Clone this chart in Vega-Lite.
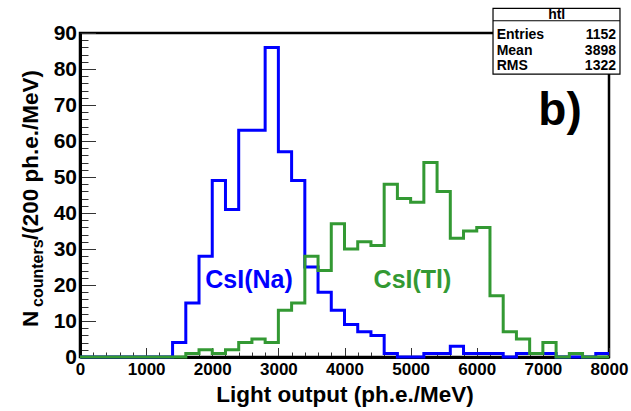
{
  "$schema": "https://vega.github.io/schema/vega-lite/v6.json",
  "width": 529,
  "height": 324,
  "autosize": {"type": "none"},
  "padding": {"left": 80, "top": 33, "right": 22, "bottom": 54},
  "background": "white",
  "config": {
    "font": "Liberation Sans",
    "view": {"stroke": "black", "strokeWidth": 2.5},
    "text": {"font": "Liberation Sans", "fontWeight": "bold"},
    "axis": {"labelOverlap": false, "labelFlush": false, "grid": false}
  },
  "datasets": {
    "hist": [
      {"sample": "CsI(Na)", "x": 0, "n": 0}, {"sample": "CsI(Na)", "x": 200, "n": 0}, {"sample": "CsI(Na)", "x": 400, "n": 0}, {"sample": "CsI(Na)", "x": 600, "n": 0},
      {"sample": "CsI(Na)", "x": 800, "n": 0}, {"sample": "CsI(Na)", "x": 1000, "n": 0}, {"sample": "CsI(Na)", "x": 1200, "n": 0}, {"sample": "CsI(Na)", "x": 1400, "n": 4},
      {"sample": "CsI(Na)", "x": 1600, "n": 15}, {"sample": "CsI(Na)", "x": 1800, "n": 28}, {"sample": "CsI(Na)", "x": 2000, "n": 49}, {"sample": "CsI(Na)", "x": 2200, "n": 41},
      {"sample": "CsI(Na)", "x": 2400, "n": 63}, {"sample": "CsI(Na)", "x": 2600, "n": 63}, {"sample": "CsI(Na)", "x": 2800, "n": 86}, {"sample": "CsI(Na)", "x": 3000, "n": 57},
      {"sample": "CsI(Na)", "x": 3200, "n": 49}, {"sample": "CsI(Na)", "x": 3400, "n": 25}, {"sample": "CsI(Na)", "x": 3600, "n": 18}, {"sample": "CsI(Na)", "x": 3800, "n": 13},
      {"sample": "CsI(Na)", "x": 4000, "n": 9}, {"sample": "CsI(Na)", "x": 4200, "n": 7}, {"sample": "CsI(Na)", "x": 4400, "n": 6}, {"sample": "CsI(Na)", "x": 4600, "n": 1},
      {"sample": "CsI(Na)", "x": 4800, "n": 0}, {"sample": "CsI(Na)", "x": 5000, "n": 0}, {"sample": "CsI(Na)", "x": 5200, "n": 1}, {"sample": "CsI(Na)", "x": 5400, "n": 1},
      {"sample": "CsI(Na)", "x": 5600, "n": 3}, {"sample": "CsI(Na)", "x": 5800, "n": 1}, {"sample": "CsI(Na)", "x": 6000, "n": 1}, {"sample": "CsI(Na)", "x": 6200, "n": 1},
      {"sample": "CsI(Na)", "x": 6400, "n": 0}, {"sample": "CsI(Na)", "x": 6600, "n": 1}, {"sample": "CsI(Na)", "x": 6800, "n": 1}, {"sample": "CsI(Na)", "x": 7000, "n": 1},
      {"sample": "CsI(Na)", "x": 7200, "n": 0}, {"sample": "CsI(Na)", "x": 7400, "n": 0}, {"sample": "CsI(Na)", "x": 7600, "n": 0}, {"sample": "CsI(Na)", "x": 7800, "n": 1},
      {"sample": "CsI(Na)", "x": 8000, "n": 1},
      {"sample": "CsI(Tl)", "x": 0, "n": 0}, {"sample": "CsI(Tl)", "x": 200, "n": 0}, {"sample": "CsI(Tl)", "x": 400, "n": 0}, {"sample": "CsI(Tl)", "x": 600, "n": 0},
      {"sample": "CsI(Tl)", "x": 800, "n": 0}, {"sample": "CsI(Tl)", "x": 1000, "n": 0}, {"sample": "CsI(Tl)", "x": 1200, "n": 0}, {"sample": "CsI(Tl)", "x": 1400, "n": 0},
      {"sample": "CsI(Tl)", "x": 1600, "n": 1}, {"sample": "CsI(Tl)", "x": 1800, "n": 2}, {"sample": "CsI(Tl)", "x": 2000, "n": 1}, {"sample": "CsI(Tl)", "x": 2200, "n": 2},
      {"sample": "CsI(Tl)", "x": 2400, "n": 4}, {"sample": "CsI(Tl)", "x": 2600, "n": 5}, {"sample": "CsI(Tl)", "x": 2800, "n": 4}, {"sample": "CsI(Tl)", "x": 3000, "n": 13},
      {"sample": "CsI(Tl)", "x": 3200, "n": 15}, {"sample": "CsI(Tl)", "x": 3400, "n": 28}, {"sample": "CsI(Tl)", "x": 3600, "n": 24}, {"sample": "CsI(Tl)", "x": 3800, "n": 37},
      {"sample": "CsI(Tl)", "x": 4000, "n": 30}, {"sample": "CsI(Tl)", "x": 4200, "n": 32}, {"sample": "CsI(Tl)", "x": 4400, "n": 31}, {"sample": "CsI(Tl)", "x": 4600, "n": 48},
      {"sample": "CsI(Tl)", "x": 4800, "n": 44}, {"sample": "CsI(Tl)", "x": 5000, "n": 43}, {"sample": "CsI(Tl)", "x": 5200, "n": 54}, {"sample": "CsI(Tl)", "x": 5400, "n": 46},
      {"sample": "CsI(Tl)", "x": 5600, "n": 33}, {"sample": "CsI(Tl)", "x": 5800, "n": 35}, {"sample": "CsI(Tl)", "x": 6000, "n": 36}, {"sample": "CsI(Tl)", "x": 6200, "n": 17},
      {"sample": "CsI(Tl)", "x": 6400, "n": 7}, {"sample": "CsI(Tl)", "x": 6600, "n": 5}, {"sample": "CsI(Tl)", "x": 6800, "n": 1}, {"sample": "CsI(Tl)", "x": 7000, "n": 4},
      {"sample": "CsI(Tl)", "x": 7200, "n": 0}, {"sample": "CsI(Tl)", "x": 7400, "n": 1}, {"sample": "CsI(Tl)", "x": 7600, "n": 0}, {"sample": "CsI(Tl)", "x": 7800, "n": 0},
      {"sample": "CsI(Tl)", "x": 8000, "n": 0}
    ]
  },
  "layer": [
    {
      "data": {"name": "hist"},
      "mark": {"type": "line", "interpolate": "step-after", "strokeWidth": 3},
      "encoding": {
        "x": {
          "field": "x", "type": "quantitative",
          "scale": {"domain": [0, 8000], "nice": false, "zero": false},
          "axis": {
            "title": "Light output (ph.e./MeV)",
            "titleFont": "Liberation Sans", "titleFontWeight": "bold", "titleFontSize": 22.5, "titleColor": "black",
            "titlePadding": 1,
            "tickCount": 200,
            "values": [0,200,400,600,800,1000,1200,1400,1600,1800,2000,2200,2400,2600,2800,3000,3200,3400,3600,3800,4000,4200,4400,4600,4800,5000,5200,5400,5600,5800,6000,6200,6400,6600,6800,7000,7200,7400,7600,7800,8000],
            "labelExpr": "datum.value % 1000 === 0 ? format(datum.value, 'd') : ''",
            "labelFont": "Liberation Sans", "labelFontWeight": "bold", "labelFontSize": 17, "labelColor": "black",
            "labelOverlap": false, "labelFlush": false, "labelPadding": 14,
            "tickSize": {"condition": {"test": "datum.value % 1000 === 0", "value": -9.5}, "value": -5},
            "tickColor": "#333", "tickWidth": 1,
            "domainColor": "black", "domainWidth": 3,
            "grid": false
          }
        },
        "y": {
          "field": "n", "type": "quantitative",
          "scale": {"domain": [0, 90], "nice": false},
          "axis": {
            "title": null,
            "tickCount": 200,
            "values": [0,2,4,6,8,10,12,14,16,18,20,22,24,26,28,30,32,34,36,38,40,42,44,46,48,50,52,54,56,58,60,62,64,66,68,70,72,74,76,78,80,82,84,86,88,90],
            "labelExpr": "datum.value % 10 === 0 ? format(datum.value, 'd') : ''",
            "labelFont": "Liberation Sans", "labelFontWeight": "bold", "labelFontSize": 21, "labelColor": "black",
            "labelOverlap": false, "labelFlush": false, "labelPadding": 19,
            "tickSize": {"condition": {"test": "datum.value % 10 === 0", "value": -15.5}, "value": -8},
            "tickColor": "#333", "tickWidth": 1,
            "domainColor": "black", "domainWidth": 3,
            "grid": false
          }
        },
        "color": {
          "field": "sample", "type": "nominal",
          "scale": {"domain": ["CsI(Na)", "CsI(Tl)"], "range": ["#0000ff", "#339933"]},
          "legend": null
        }
      }
    },
    {
      "data": {"values": [{}]},
      "mark": {"type": "text", "fontSize": 25, "align": "center", "baseline": "alphabetic", "color": "#0000ff"},
      "encoding": {
        "x": {"datum": 2556, "type": "quantitative"},
        "y": {"datum": 19.2, "type": "quantitative"},
        "text": {"value": "CsI(Na)"}
      }
    },
    {
      "data": {"values": [{}]},
      "mark": {"type": "text", "fontSize": 25, "align": "center", "baseline": "alphabetic", "color": "#339933"},
      "encoding": {
        "x": {"datum": 5028, "type": "quantitative"},
        "y": {"datum": 19.2, "type": "quantitative"},
        "text": {"value": "CsI(Tl)"}
      }
    },
    {
      "data": {"values": [{}]},
      "mark": {"type": "text", "fontSize": 46, "align": "center", "baseline": "alphabetic", "color": "black"},
      "encoding": {
        "x": {"datum": 7259, "type": "quantitative"},
        "y": {"datum": 64.4, "type": "quantitative"},
        "text": {"value": "b)"}
      }
    },
    {
      "data": {"values": [{}]},
      "mark": {"type": "text", "fontSize": 22.5, "align": "left", "baseline": "alphabetic", "angle": 270, "color": "black"},
      "encoding": {
        "x": {"datum": -635, "type": "quantitative"},
        "y": {"datum": 8.33, "type": "quantitative"},
        "text": {"value": "N"}
      }
    },
    {
      "data": {"values": [{}]},
      "mark": {"type": "text", "fontSize": 16, "align": "left", "baseline": "alphabetic", "angle": 270, "color": "black"},
      "encoding": {
        "x": {"datum": -567, "type": "quantitative"},
        "y": {"datum": 13.9, "type": "quantitative"},
        "text": {"value": "counters"}
      }
    },
    {
      "data": {"values": [{}]},
      "mark": {"type": "text", "fontSize": 22.5, "align": "left", "baseline": "alphabetic", "angle": 270, "color": "black"},
      "encoding": {
        "x": {"datum": -635, "type": "quantitative"},
        "y": {"datum": 32.5, "type": "quantitative"},
        "text": {"value": "/(200 ph.e./MeV)"}
      }
    },
    {
      "data": {"values": [{}]},
      "mark": {"type": "rect", "fill": "white", "stroke": "black", "strokeWidth": 1.2},
      "encoding": {
        "x": {"datum": 6246, "type": "quantitative"},
        "x2": {"datum": 8166},
        "y": {"datum": 96.86, "type": "quantitative"},
        "y2": {"datum": 78.6}
      }
    },
    {
      "data": {"values": [{}]},
      "mark": {"type": "rule", "stroke": "black", "strokeWidth": 1},
      "encoding": {
        "x": {"datum": 6246, "type": "quantitative"},
        "x2": {"datum": 8166},
        "y": {"datum": 93.4, "type": "quantitative"}
      }
    },
    {
      "data": {"values": [{}]},
      "mark": {"type": "text", "fontSize": 14, "align": "center", "baseline": "alphabetic", "color": "black"},
      "encoding": {
        "x": {"datum": 7209, "type": "quantitative"},
        "y": {"datum": 94.0, "type": "quantitative"},
        "text": {"value": "htl"}
      }
    },
    {
      "data": {"values": [{}]},
      "mark": {"type": "text", "fontSize": 14, "align": "left", "baseline": "alphabetic", "color": "black"},
      "encoding": {
        "x": {"datum": 6301, "type": "quantitative"},
        "y": {"datum": 88.3, "type": "quantitative"},
        "text": {"value": "Entries"}
      }
    },
    {
      "data": {"values": [{}]},
      "mark": {"type": "text", "fontSize": 14, "align": "left", "baseline": "alphabetic", "color": "black"},
      "encoding": {
        "x": {"datum": 6301, "type": "quantitative"},
        "y": {"datum": 84.0, "type": "quantitative"},
        "text": {"value": "Mean"}
      }
    },
    {
      "data": {"values": [{}]},
      "mark": {"type": "text", "fontSize": 14, "align": "left", "baseline": "alphabetic", "color": "black"},
      "encoding": {
        "x": {"datum": 6301, "type": "quantitative"},
        "y": {"datum": 79.7, "type": "quantitative"},
        "text": {"value": "RMS"}
      }
    },
    {
      "data": {"values": [{}]},
      "mark": {"type": "text", "fontSize": 14, "align": "right", "baseline": "alphabetic", "color": "black"},
      "encoding": {
        "x": {"datum": 8106, "type": "quantitative"},
        "y": {"datum": 88.3, "type": "quantitative"},
        "text": {"value": "1152"}
      }
    },
    {
      "data": {"values": [{}]},
      "mark": {"type": "text", "fontSize": 14, "align": "right", "baseline": "alphabetic", "color": "black"},
      "encoding": {
        "x": {"datum": 8106, "type": "quantitative"},
        "y": {"datum": 84.0, "type": "quantitative"},
        "text": {"value": "3898"}
      }
    },
    {
      "data": {"values": [{}]},
      "mark": {"type": "text", "fontSize": 14, "align": "right", "baseline": "alphabetic", "color": "black"},
      "encoding": {
        "x": {"datum": 8106, "type": "quantitative"},
        "y": {"datum": 79.7, "type": "quantitative"},
        "text": {"value": "1322"}
      }
    }
  ]
}
